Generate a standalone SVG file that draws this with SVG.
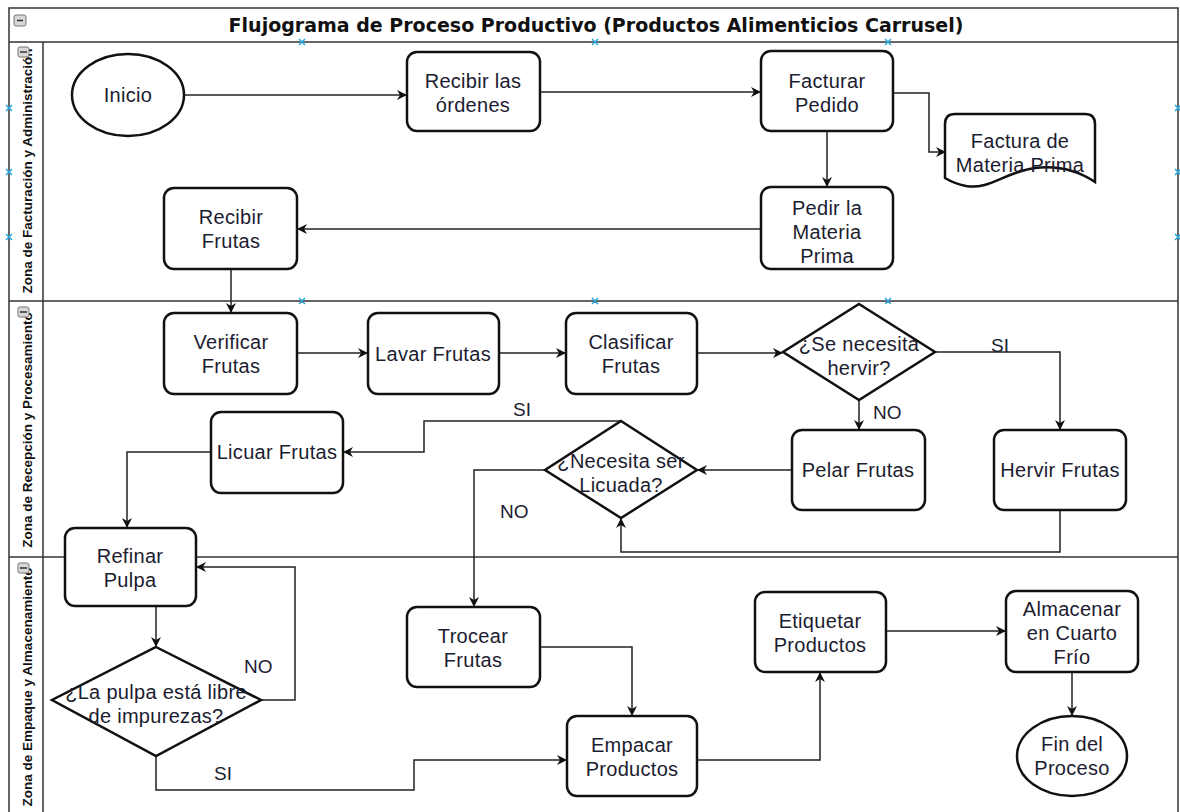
<svg xmlns="http://www.w3.org/2000/svg" width="1180" height="812" viewBox="0 0 1180 812">
<defs>
<marker id="arr" viewBox="0 0 10 10" refX="9" refY="5" markerWidth="10" markerHeight="10" markerUnits="userSpaceOnUse" orient="auto">
<path d="M0,0 L10,5 L0,10 L3,5 Z" fill="#111"/>
</marker>
</defs>
<style>
.frame{fill:none;stroke:#333;stroke-width:1.5}
.node{fill:#fff;stroke:#111;stroke-width:2.5}
.t{font-family:"Liberation Sans",Arial,sans-serif;font-size:20px;letter-spacing:0.3px;fill:#1c1c30;text-anchor:middle}
.lbl{font-family:"Liberation Sans",Arial,sans-serif;font-size:19px;fill:#1c1c30}
.lane{font-family:"Liberation Sans",Arial,sans-serif;font-size:13.5px;font-weight:bold;fill:#111;text-anchor:middle}
.title{font-family:"DejaVu Sans",Verdana,sans-serif;font-size:19px;font-weight:bold;fill:#111;text-anchor:middle}
.c{fill:none;stroke:#222;stroke-width:1.5;marker-end:url(#arr)}
.ico{fill:#d8d8d8;stroke:#777;stroke-width:1}
.x{stroke:#29a8e0;stroke-width:1.5}
</style>
<rect width="1180" height="812" fill="#fff"/>
<g id="pool">
<path class="frame" d="M9,814 V8 H1178 V814"/>
<line class="frame" x1="9" y1="42" x2="1178" y2="42"/>
<line class="frame" x1="43" y1="42" x2="43" y2="814"/>
<line class="frame" x1="9" y1="301" x2="1178" y2="301"/>
<line class="frame" x1="9" y1="557" x2="1178" y2="557"/>
<text class="title" x="596" y="32">Flujograma de Proceso Productivo (Productos Alimenticios Carrusel)</text>
<rect class="ico" x="14" y="15" width="12" height="11" rx="2"/><line x1="17" y1="20.5" x2="23" y2="20.5" stroke="#333" stroke-width="1.5"/>
<text class="lane" transform="translate(32,171) rotate(-90)">Zona de Facturación y Administración</text>
<text class="lane" transform="translate(32,430) rotate(-90)">Zona de Recepción y Procesamiento</text>
<text class="lane" transform="translate(32,687) rotate(-90)">Zona de Empaque y Almacenamiento</text>
<rect class="ico" x="18" y="47" width="11" height="10" rx="2"/><line x1="20" y1="52" x2="27" y2="52" stroke="#333" stroke-width="1.5"/>
<rect class="ico" x="18" y="307" width="11" height="10" rx="2"/><line x1="20" y1="312" x2="27" y2="312" stroke="#333" stroke-width="1.5"/>
<rect class="ico" x="18" y="563" width="11" height="10" rx="2"/><line x1="20" y1="568" x2="27" y2="568" stroke="#333" stroke-width="1.5"/>
</g>
<g id="handles">
<path class="x" d="M299,39 l6,6 M305,39 l-6,6 M592,39 l6,6 M598,39 l-6,6 M885,39 l6,6 M891,39 l-6,6 M299,298 l6,6 M305,298 l-6,6 M592,298 l6,6 M598,298 l-6,6 M885,298 l6,6 M891,298 l-6,6 M6,105 l6,6 M12,105 l-6,6 M6,169 l6,6 M12,169 l-6,6 M6,234 l6,6 M12,234 l-6,6 M1175,105 l6,6 M1181,105 l-6,6 M1175,169 l6,6 M1181,169 l-6,6 M1175,234 l6,6 M1181,234 l-6,6"/>
</g>
<g id="connectors">
<path class="c" d="M184,95 H406"/>
<path class="c" d="M540,92 H760"/>
<path class="c" d="M893,93 H929 V152 H945"/>
<path class="c" d="M827,131 V186"/>
<path class="c" d="M761,229 H298"/>
<path class="c" d="M231,269 V312"/>
<path class="c" d="M297,353 H367"/>
<path class="c" d="M499,353 H565"/>
<path class="c" d="M697,353 H782"/>
<path class="c" d="M935,352 H1060 V429"/>
<path class="c" d="M859,400 V429"/>
<path class="c" d="M792,470 H698"/>
<path class="c" d="M1060,510 V552 H621 V519"/>
<path class="c" d="M621,421 H424 V452 H344"/>
<path class="c" d="M545,470 H474 V606"/>
<path class="c" d="M211,452 H127 V527"/>
<path class="c" d="M156,606 V646"/>
<path class="c" d="M262,700 H295 V567 H197"/>
<path class="c" d="M156,756 V790 H414 V760 H566"/>
<path class="c" d="M540,647 H632 V715"/>
<path class="c" d="M697,760 H820 V673"/>
<path class="c" d="M886,631 H1005"/>
<path class="c" d="M1072,672 V715"/>
<text class="lbl" x="991" y="352">SI</text>
<text class="lbl" x="873" y="419">NO</text>
<text class="lbl" x="513" y="416">SI</text>
<text class="lbl" x="500" y="518">NO</text>
<text class="lbl" x="244" y="673">NO</text>
<text class="lbl" x="214" y="780">SI</text>
</g>
<g id="inicio"><ellipse class="node" cx="128" cy="95" rx="56" ry="41"/><text class="t" x="128" y="102">Inicio</text></g>
<g id="recibir-ordenes"><rect class="node" x="407" y="52" width="133" height="79" rx="10"/><text class="t" x="473" y="88">Recibir las</text><text class="t" x="473" y="112">órdenes</text></g>
<g id="facturar"><rect class="node" x="761" y="51" width="132" height="80" rx="10"/><text class="t" x="827" y="88">Facturar</text><text class="t" x="827" y="112">Pedido</text></g>
<g id="factura-doc"><path class="node" d="M955,114 H1085 Q1095,114 1095,124 V182 C1080,172 1060,165 1035,168 C1005,172 990,190 966,186 C956,184 950,181 945,178 V124 Q945,114 955,114 Z"/><text class="t" x="1020" y="148">Factura de</text><text class="t" x="1020" y="172">Materia Prima</text></g>
<g id="pedir"><rect class="node" x="761" y="187" width="132" height="82" rx="10"/><text class="t" x="827" y="215">Pedir la</text><text class="t" x="827" y="239">Materia</text><text class="t" x="827" y="263">Prima</text></g>
<g id="recibir-frutas"><rect class="node" x="164" y="188" width="133" height="81" rx="10"/><text class="t" x="231" y="224">Recibir</text><text class="t" x="231" y="248">Frutas</text></g>
<g id="verificar"><rect class="node" x="164" y="313" width="133" height="81" rx="10"/><text class="t" x="231" y="349">Verificar</text><text class="t" x="231" y="373">Frutas</text></g>
<g id="lavar"><rect class="node" x="368" y="313" width="131" height="81" rx="10"/><text class="t" x="433" y="361">Lavar Frutas</text></g>
<g id="clasificar"><rect class="node" x="566" y="313" width="131" height="81" rx="10"/><text class="t" x="631" y="349">Clasificar</text><text class="t" x="631" y="373">Frutas</text></g>
<g id="hervir-q"><path class="node" d="M859,304 L935,352 L859,400 L783,352 Z"/><text class="t" x="859" y="351">¿Se necesita</text><text class="t" x="859" y="375">hervir?</text></g>
<g id="pelar"><rect class="node" x="792" y="430" width="133" height="80" rx="10"/><text class="t" x="858" y="477">Pelar Frutas</text></g>
<g id="hervir"><rect class="node" x="994" y="430" width="132" height="80" rx="10"/><text class="t" x="1060" y="477">Hervir Frutas</text></g>
<g id="licuada-q"><path class="node" d="M621,421 L697,470 L621,518 L545,470 Z"/><text class="t" x="621" y="468">¿Necesita ser</text><text class="t" x="621" y="492">Licuada?</text></g>
<g id="licuar"><rect class="node" x="211" y="412" width="132" height="81" rx="10"/><text class="t" x="277" y="459">Licuar Frutas</text></g>
<g id="refinar"><rect class="node" x="65" y="528" width="131" height="78" rx="10"/><text class="t" x="130" y="563">Refinar</text><text class="t" x="130" y="587">Pulpa</text></g>
<g id="pulpa-q"><path class="node" d="M156,647 L261,700 L156,756 L52,700 Z"/><text class="t" x="156" y="699">¿La pulpa está libre</text><text class="t" x="156" y="723">de impurezas?</text></g>
<g id="trocear"><rect class="node" x="407" y="607" width="133" height="80" rx="10"/><text class="t" x="473" y="643">Trocear</text><text class="t" x="473" y="667">Frutas</text></g>
<g id="empacar"><rect class="node" x="567" y="716" width="130" height="80" rx="10"/><text class="t" x="632" y="752">Empacar</text><text class="t" x="632" y="776">Productos</text></g>
<g id="etiquetar"><rect class="node" x="755" y="592" width="131" height="80" rx="10"/><text class="t" x="820" y="628">Etiquetar</text><text class="t" x="820" y="652">Productos</text></g>
<g id="almacenar"><rect class="node" x="1006" y="591" width="132" height="81" rx="10"/><text class="t" x="1072" y="616">Almacenar</text><text class="t" x="1072" y="640">en Cuarto</text><text class="t" x="1072" y="664">Frío</text></g>
<g id="fin"><ellipse class="node" cx="1072" cy="756" rx="55" ry="40"/><text class="t" x="1072" y="751">Fin del</text><text class="t" x="1072" y="775">Proceso</text></g>
</svg>
